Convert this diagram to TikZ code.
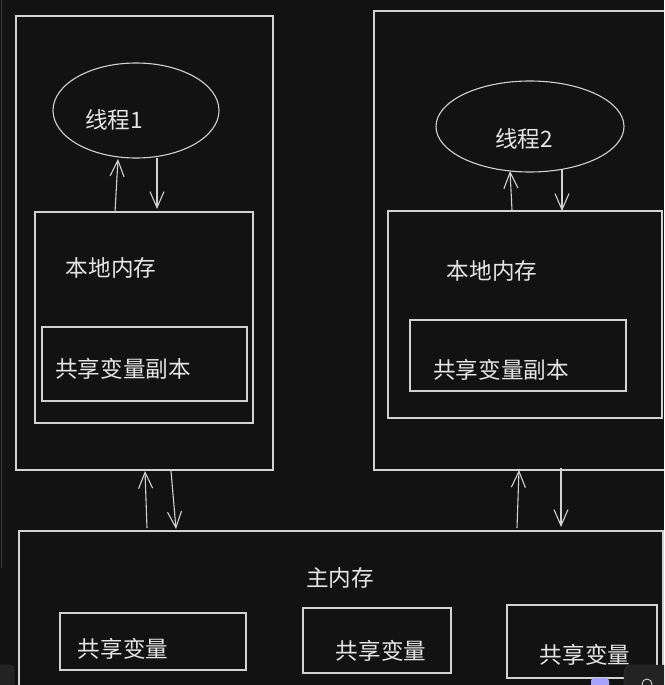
\documentclass[tikz,border=0pt]{standalone}
\usepackage{fontspec}
\newfontfamily\cjk{Noto Sans CJK SC}
\usetikzlibrary{arrows.meta,shapes.geometric}
\definecolor{bg}{HTML}{121212}
\definecolor{ink}{HTML}{D2D2D2}
\definecolor{inktext}{HTML}{E6E6E6}
\definecolor{uiedge}{HTML}{3A3A3A}
\definecolor{uipanel}{HTML}{232323}
\definecolor{uipurple}{HTML}{A8A2FF}
\begin{document}
\begin{tikzpicture}[x=1pt,y=-1pt,
  box/.style={draw=ink,line width=1.1pt,inner sep=0pt,rectangle},
  oval/.style={draw=ink,line width=1.1pt,inner sep=0pt,ellipse},
  lbl/.style={text=inktext,font=\cjk\fontsize{22.6}{22.6}\selectfont,inner sep=0pt},
  arr/.style={draw=ink,line width=1.1pt,-{Straight Barb[length=16pt,width=14pt,line width=1.1pt]}}]
\useasboundingbox (0,0) rectangle (664,685);
\clip (0,0) rectangle (664,685);
\fill[bg] (0,0) rectangle (664,685);

% thread 1 side
\node[box,minimum width=257pt,minimum height=454pt] (outer1) at (144.5,243) {};
\node[oval,minimum width=166pt,minimum height=95pt] (th1) at (136,110.5) {};
\node[lbl] (th1t) at (114,120) {线程1};
\node[box,minimum width=218pt,minimum height=211pt] (lm1) at (144,317.5) {};
\node[lbl] (lm1t) at (111,268) {本地内存};
\node[box,minimum width=205pt,minimum height=74pt] (cp1) at (144.5,364) {};
\node[lbl] (cp1t) at (123,369) {共享变量副本};

% thread 2 side
\node[box,minimum width=292pt,minimum height=459pt] (outer2) at (520,240.5) {};
\node[oval,minimum width=188pt,minimum height=91pt] (th2) at (530,126.5) {};
\node[lbl] (th2t) at (524,139) {线程2};
\node[box,minimum width=274pt,minimum height=207pt] (lm2) at (525,314.5) {};
\node[lbl] (lm2t) at (492,271) {本地内存};
\node[box,minimum width=216pt,minimum height=71pt] (cp2) at (518,355.5) {};
\node[lbl] (cp2t) at (501,370) {共享变量副本};

% main memory
\node[box,minimum width=644pt,minimum height=158pt] (main) at (341,610) {};
\node[lbl] (maint) at (340,578) {主内存};
\node[box,minimum width=186pt,minimum height=57pt] (v1) at (153,641.5) {};
\node[lbl] (v1t) at (123,649) {共享变量};
\node[box,minimum width=148pt,minimum height=65pt] (v2) at (377,640.5) {};
\node[lbl] (v2t) at (381,651) {共享变量};
\node[box,minimum width=150pt,minimum height=73pt] (v3) at (582,641.5) {};
\node[lbl] (v3t) at (585,655) {共享变量};

% arrow end points
\coordinate (a1s) at (115,212); \coordinate (a1e) at (118,159);
\coordinate (b1s) at (157,158); \coordinate (b1e) at (157,209);
\coordinate (a2s) at (512,210); \coordinate (a2e) at (510,171);
\coordinate (b2s) at (562,169); \coordinate (b2e) at (562,211);
\coordinate (c1s) at (147,528); \coordinate (c1e) at (145,471);
\coordinate (d1s) at (171,471); \coordinate (d1e) at (176,529);
\coordinate (c2s) at (517,528); \coordinate (c2e) at (519,470);
\coordinate (d2s) at (561,468); \coordinate (d2e) at (561,527);

\draw[arr] (a1s) -- (a1e);
\draw[arr] (b1s) -- (b1e);
\draw[arr] (a2s) -- (a2e);
\draw[arr] (b2s) -- (b2e);
\draw[arr] (c1s) -- (c1e);
\draw[arr] (d1s) -- (d1e);
\draw[arr] (c2s) -- (c2e);
\draw[arr] (d2s) -- (d2e);

% screen UI remnants
\draw[uiedge,line width=1pt] (1.5,0) -- (1.5,568);
\draw[uiedge,fill=uipanel,rounded corners=5pt] (-10,665) rectangle (14,700);
\draw[uiedge,fill=uipanel,rounded corners=7pt] (624,665) rectangle (680,700);
\draw[ink!70,line width=0.8pt] (647,684) circle (5pt);
\fill[uipurple,rounded corners=3pt] (591,678) rectangle (609,690);
\end{tikzpicture}
\end{document}
